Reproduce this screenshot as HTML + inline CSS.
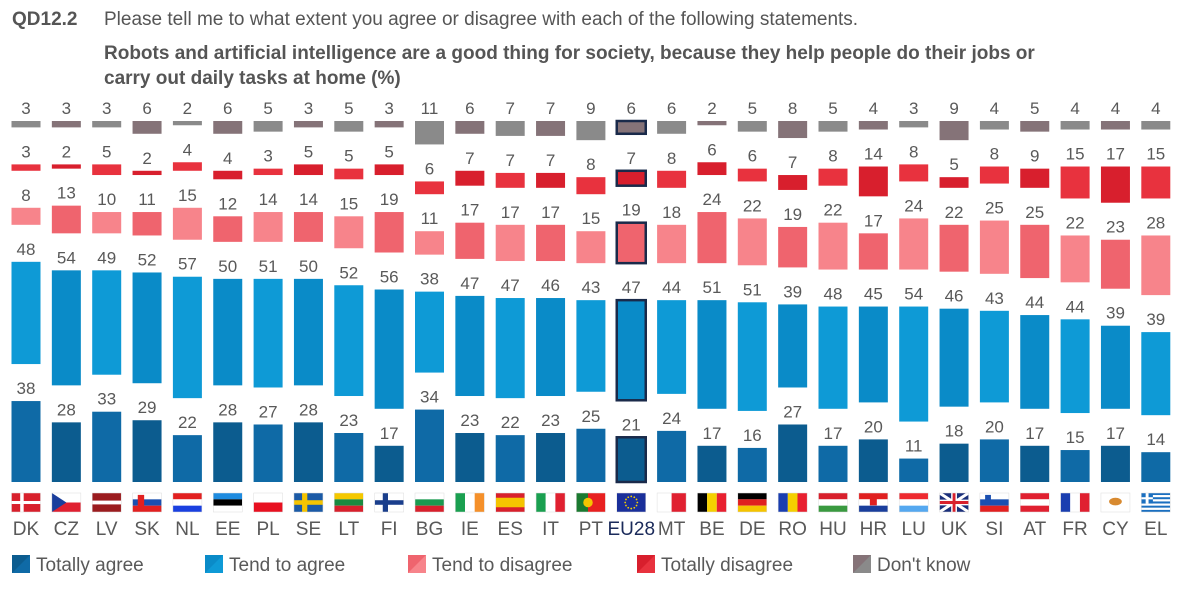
<!DOCTYPE html>
<html><head><meta charset="utf-8">
<style>
body{margin:0;background:#fff;width:1200px;height:585px;overflow:hidden;font-family:"Liberation Sans",sans-serif;}
svg text{font-family:"Liberation Sans",sans-serif;}
</style></head>
<body>
<svg id="chart" width="1200" height="585" xmlns="http://www.w3.org/2000/svg">
<text x="12" y="25" font-size="19" font-weight="bold" fill="#555">QD12.2</text>
<text x="104" y="25" font-size="19" fill="#555">Please tell me to what extent you agree or disagree with each of the following statements.</text>
<text x="104" y="59" font-size="19" font-weight="bold" fill="#555">Robots and artificial intelligence are a good thing for society, because they help people do their jobs or</text>
<text x="104" y="84" font-size="19" font-weight="bold" fill="#555">carry out daily tasks at home  (%)</text>
<g id="bars"></g>
<g id="legend"></g>
</svg>
<script>
const countries=["DK","CZ","LV","SK","NL","EE","PL","SE","LT","FI","BG","IE","ES","IT","PT","EU28","MT","BE","DE","RO","HU","HR","LU","UK","SI","AT","FR","CY","EL"];
const totallyAgree=[38,28,33,29,22,28,27,28,23,17,34,23,22,23,25,21,24,17,16,27,17,20,11,18,20,17,15,17,14];
const tendAgree=[48,54,49,52,57,50,51,50,52,56,38,47,47,46,43,47,44,51,51,39,48,45,54,46,43,44,44,39,39];
const tendDisagree=[8,13,10,11,15,12,14,14,15,19,11,17,17,17,15,19,18,24,22,19,22,17,24,22,25,25,22,23,28];
const totallyDisagree=[3,2,5,2,4,4,3,5,5,5,6,7,7,7,8,7,8,6,6,7,8,14,8,5,8,9,15,17,15];
const dontKnow=[3,3,3,6,2,6,5,3,5,3,11,6,7,7,9,6,6,2,5,8,5,4,3,9,4,5,4,4,4];
const seriesNames=["Totally agree","Tend to agree","Tend to disagree","Totally disagree","Don't know"];

const NS="http://www.w3.org/2000/svg";
const base=482, scale=2.13, gap=37, barW=29;
const xC=i=>26+i*40.35;
const hOf=v=>v*scale;
const colors=[["#0f6aa6","#0c5c8f"],["#0e9ad6","#0a8bc8"],["#f7848b","#ef646e"],["#e8323e","#d81f2d"],["#8a8a8a","#857378"]];
const slugs=["totally-agree","tend-to-agree","tend-to-disagree","totally-disagree","dont-know"];
const g=document.getElementById('bars');
function mk(tag,attrs,parent){const e=document.createElementNS(NS,tag);for(const k in attrs)e.setAttribute(k,attrs[k]);(parent||g).appendChild(e);return e;}

const flagDefs={
DK:[["#d8202c"],["h","#fff",0.45,0.1],["v","#fff",0.3,0.12]],
};
function flag(c,x,y,w,h){
 const fg=mk('g',{});
 
 
 const r=(xx,yy,ww,hh,f)=>mk('rect',{x:x+xx*w,y:y+yy*h,width:ww*w,height:hh*h,fill:f},fg);
 const H3=(a,b,cc)=>{r(0,0,1,1/3,a);r(0,1/3,1,1/3,b);r(0,2/3,1,1/3,cc);};
 const V3=(a,b,cc)=>{r(0,0,1/3,1,a);r(1/3,0,1/3,1,b);r(2/3,0,1/3,1,cc);};
 switch(c){
 case"DK":r(0,0,1,1,"#d8202c");r(0,0.42,1,0.16,"#fff");r(0.3,0,0.12,1,"#fff");break;
 case"FI":r(0,0,1,1,"#fff");r(0,0.38,1,0.24,"#1a3e8c");r(0.28,0,0.18,1,"#1a3e8c");break;
 case"SE":r(0,0,1,1,"#1b5aa6");r(0,0.38,1,0.24,"#f5c400");r(0.28,0,0.18,1,"#f5c400");break;
 case"CZ":r(0,0,1,0.5,"#fff");r(0,0.5,1,0.5,"#e02030");mk('polygon',{points:`${x},${y} ${x+w*0.5},${y+h/2} ${x},${y+h}`,fill:"#1a3e9c"},fg);break;
 case"LV":r(0,0,1,1,"#9b1c1f");r(0,0.4,1,0.2,"#fff");break;
 case"SK":H3("#fff","#1a4fb0","#e22020");r(0.18,0.1,0.22,0.6,"#e22020");break;
 case"NL":H3("#e22020","#fff","#1a40e0");break;
 case"LU":H3("#ee2a30","#fff","#55a8f0");break;
 case"EE":H3("#1f8ce0","#000","#fff");break;
 case"PL":r(0,0,1,0.5,"#fff");r(0,0.5,1,0.5,"#e81020");break;
 case"LT":H3("#f5c800","#1a8a40","#d8202c");break;
 case"BG":H3("#fff","#1a9a50","#d8202c");break;
 case"HU":H3("#d8202c","#fff","#3a9a40");break;
 case"HR":H3("#e02020","#fff","#1a3e9c");r(0.38,0.2,0.24,0.45,"#e02020");break;
 case"IE":V3("#1aa050","#fff","#f5902a");break;
 case"IT":V3("#1aa050","#fff","#e02030");break;
 case"FR":V3("#1a3eb0","#fff","#e02030");break;
 case"BE":V3("#000","#f5d000","#e82030");break;
 case"RO":V3("#1a3eb0","#f5d000","#e82030");break;
 case"ES":r(0,0,1,1,"#d8202c");r(0,0.25,1,0.5,"#f5c400");break;
 case"PT":r(0,0,1,1,"#e82020");r(0,0,0.4,1,"#1a7a30");mk('circle',{cx:x+0.4*w,cy:y+h/2,r:h*0.25,fill:"#f5c400"},fg);break;
 case"EU28":r(0,0,1,1,"#1a2f9a");for(let k=0;k<12;k++){const a=k*Math.PI/6;mk('circle',{cx:x+w/2+Math.cos(a)*h*0.32,cy:y+h/2+Math.sin(a)*h*0.32,r:0.9,fill:"#f5d000"},fg);}break;
 case"MT":r(0,0,0.5,1,"#fff");r(0.5,0,0.5,1,"#e02030");break;
 case"DE":H3("#000","#e02020","#f5c400");break;
 case"AT":H3("#e02030","#fff","#e02030");break;
 case"SI":H3("#fff","#1a4fb0","#e22020");r(0.18,0.1,0.2,0.5,"#1a4fb0");break;
 case"UK":r(0,0,1,1,"#1a2f7a");mk('line',{x1:x,y1:y,x2:x+w,y2:y+h,stroke:"#fff","stroke-width":3},fg);mk('line',{x1:x+w,y1:y,x2:x,y2:y+h,stroke:"#fff","stroke-width":3},fg);r(0,0.35,1,0.3,"#fff");r(0.4,0,0.2,1,"#fff");r(0,0.42,1,0.16,"#d8202c");r(0.45,0,0.1,1,"#d8202c");break;
 case"CY":r(0,0,1,1,"#fff");mk('ellipse',{cx:x+w/2,cy:y+h*0.45,rx:w*0.22,ry:h*0.2,fill:"#d88a30"},fg);break;
 case"EL":for(let k=0;k<9;k++)r(0,k/9,1,1/9,k%2?"#fff":"#1a6fc0");r(0,0,0.4,5/9,"#1a6fc0");r(0.15,0,0.1,5/9,"#fff");r(0,2/9,0.4,1/9,"#fff");break;
 }
 mk('rect',{x:x,y:y,width:w,height:h,fill:"none",stroke:"#ddd","stroke-width":0.5},fg);
}

const series=[totallyAgree,tendAgree,tendDisagree,totallyDisagree,dontKnow];
countries.forEach((c,i)=>{
 const cx=xC(i), x0=cx-barW/2;
 let bottom=base;
 const isEU=c==="EU28";
 series.forEach((arr,s)=>{
  const h=hOf(arr[i]);
  const top=bottom-h;
  const rect=mk('rect',{x:x0,y:top,width:barW,height:h,fill:colors[s][i%2]});
  
  
  if(isEU){rect.setAttribute('stroke','#1a2a4a');rect.setAttribute('stroke-width','2.5');}
  const t=mk('text',{x:cx,y:top-7,"text-anchor":"middle","font-size":17,fill:"#595959"});
  t.textContent=arr[i];
  
  
  bottom=top-gap;
 });
 flag(c,x0,493,barW,19);
 const lab=mk('text',{x:cx,y:535,"text-anchor":"middle","font-size":19,fill:isEU?"#1a2a5a":"#595959"});
 lab.textContent=c;
 
 
});

const lg=document.getElementById('legend');
const lx=[12,205,408,637,853];
seriesNames.forEach((n,s)=>{
 const it=mk('g',{},lg);
 
 
 mk('rect',{x:lx[s],y:555,width:18,height:18,fill:colors[s][1]},it);
 mk('polygon',{points:`${lx[s]+18},${555} ${lx[s]+18},${573} ${lx[s]},${573}`,fill:colors[s][0]},it);
 const t=mk('text',{x:lx[s]+24,y:571,"font-size":19,fill:"#595959"},it);
 t.textContent=n;
});
</script>
</body></html>
